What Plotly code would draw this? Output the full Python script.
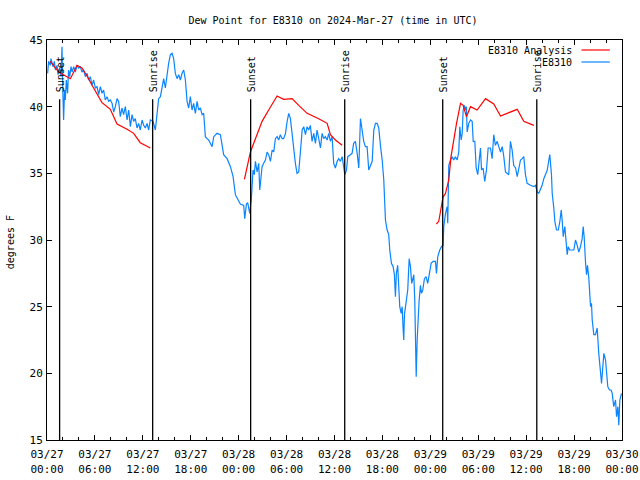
import pandas as pd
import plotly.graph_objects as go

BASE = pd.Timestamp("2024-03-27 00:00")

# Observations (hours since 2024-03-27 00:00 UTC, dew point in F)
obs_hours = [0.08,0.20,0.41,0.50,0.75,0.92,1.05,1.26,1.38,1.58,1.76,1.88,1.96,2.08,2.20,2.29,2.42,2.58,2.70,2.84,
 3.01,3.14,3.34,3.55,3.76,3.96,4.17,4.38,4.59,4.80,5.02,5.21,5.43,5.64,5.84,6.05,6.26,6.47,6.68,6.89,
 7.09,7.30,7.52,7.72,7.93,8.15,8.35,8.56,8.77,8.97,9.18,9.39,9.59,9.81,10.03,10.23,10.44,10.65,10.85,11.06,
 11.27,11.47,11.68,11.91,12.11,12.32,12.53,12.73,12.94,13.28,13.57,13.78,13.98,14.20,14.41,14.61,14.82,15.03,15.23,15.45,
 15.66,15.86,16.07,16.29,16.49,16.70,16.91,17.12,17.33,17.54,17.74,17.95,18.16,18.36,18.58,18.79,18.99,19.21,19.42,19.62,
 19.83,20.04,20.24,20.45,20.67,20.88,21.30,21.71,21.92,22.12,22.55,22.97,23.30,23.59,24.21,24.63,24.76,24.97,25.13,25.38,
 25.59,25.80,25.96,26.10,26.31,26.51,26.64,26.81,26.93,27.13,27.35,27.56,27.76,27.98,28.19,28.39,28.60,28.81,29.01,29.22,
 29.44,29.63,29.86,30.07,30.27,30.48,30.69,30.89,31.10,31.31,31.52,31.73,31.95,32.15,32.36,32.57,32.77,32.98,33.19,33.40,
 33.61,33.82,34.02,34.24,34.45,34.65,34.86,35.08,35.28,35.49,35.70,35.90,36.11,36.33,36.53,36.74,36.96,37.16,37.29,37.50,
 37.66,37.99,38.20,38.40,38.62,38.84,39.04,39.25,39.46,39.66,39.87,40.08,40.29,40.50,40.72,40.92,41.13,41.34,41.54,41.75,
 41.97,42.17,42.25,42.38,42.59,42.79,42.92,43.13,43.34,43.50,43.63,43.75,43.91,44.05,44.17,44.35,44.47,44.60,44.67,44.76,
 44.97,45.17,45.35,45.51,45.67,45.79,45.93,46.05,46.14,46.23,46.35,46.47,46.60,46.76,46.89,47.05,47.26,47.47,47.67,47.89,
 48.10,48.35,48.64,48.77,48.93,49.18,49.39,49.60,49.68,49.90,50.11,50.18,50.31,50.52,50.73,50.93,51.14,51.36,51.56,51.69,
 51.86,51.99,52.11,52.27,52.40,52.52,52.61,52.81,53.03,53.24,53.37,53.57,53.74,53.94,54.12,54.28,54.41,54.61,54.81,55.03,
 55.24,55.53,55.74,55.94,56.15,56.37,56.57,56.79,57.00,57.20,57.41,57.62,57.82,58.03,58.24,58.44,58.67,58.88,59.08,59.29,
 59.50,59.70,59.91,60.12,60.54,60.96,61.17,61.38,61.58,61.79,62.00,62.21,62.42,62.64,62.84,62.96,63.17,63.26,63.46,63.59,
 63.80,64.02,64.22,64.39,64.52,64.64,64.84,65.01,65.14,65.27,65.46,65.97,66.18,66.39,66.59,66.80,67.01,67.14,67.26,67.44,
 67.56,67.68,67.85,68.06,68.18,68.27,68.47,68.68,68.89,69.09,69.31,69.44,69.60,69.73,69.94,70.06,70.22,70.43,70.64,70.77,
 70.97,71.19,71.32,71.48,71.60,71.73,71.94]
obs_values = [42.5,43.4,43.1,43.6,43.0,43.4,42.75,43.1,42.4,42.9,42.25,44.5,41.75,39.0,41.25,40.5,42.0,41.0,42.75,42.25,
 43.0,42.6,43.0,42.6,43.1,42.9,43.0,42.6,42.75,42.25,42.5,42.0,42.25,41.6,42.0,41.4,41.5,40.9,41.5,41.0,
 41.25,40.5,40.75,40.4,40.5,40.25,39.6,40.0,40.6,40.4,39.25,39.9,39.4,40.0,39.0,39.75,38.5,39.4,38.9,39.1,
 38.4,38.75,38.25,39.0,38.6,38.4,38.75,38.25,39.0,38.9,38.25,39.4,40.6,40.75,41.6,42.1,41.4,42.5,43.25,43.9,
 44.0,43.6,42.5,42.1,42.4,42.0,42.5,42.75,42.0,40.4,39.9,40.75,39.75,40.25,39.5,40.4,39.75,39.9,39.4,39.5,
 37.75,37.6,37.5,37.25,37.0,37.75,38.0,37.9,37.1,36.4,36.1,35.5,34.75,33.4,32.7,32.6,31.6,32.7,32.8,32.0,
 33.1,35.25,34.9,35.9,35.1,35.75,33.75,34.75,35.5,35.75,36.0,36.6,36.4,35.9,36.75,36.6,37.6,37.75,37.5,37.9,
 37.6,37.6,38.0,38.9,39.5,39.1,38.0,36.6,35.75,35.0,35.1,36.6,38.25,38.5,37.9,38.5,38.25,38.6,37.4,38.0,
 37.25,38.25,37.6,36.9,38.0,37.6,37.75,37.5,38.0,37.4,37.75,35.75,35.4,35.9,36.1,35.9,36.25,35.25,34.9,35.25,
 36.25,36.4,36.5,37.25,37.4,36.5,35.4,39.1,38.25,37.4,37.0,37.0,35.25,35.6,35.9,38.25,38.75,38.75,38.4,37.1,
 36.0,34.5,33.0,31.5,30.75,30.4,29.25,28.25,28.0,27.4,25.75,27.5,28.1,25.75,25.0,24.5,25.0,23.25,22.5,24.4,
 25.5,26.25,28.6,28.0,26.75,27.1,27.4,25.5,21.6,19.75,22.5,24.25,25.5,26.6,26.0,26.25,27.1,27.25,26.75,27.5,
 28.25,28.4,28.4,27.5,28.75,29.25,29.5,29.6,31.0,32.0,32.5,31.25,35.6,36.0,36.25,36.0,36.25,36.0,36.6,38.5,
 37.5,38.0,39.75,40.1,39.75,40.0,38.1,38.75,39.0,38.9,37.4,37.4,35.4,34.9,36.0,36.9,35.25,35.4,34.4,35.25,
 36.9,36.9,36.1,37.9,37.1,37.4,37.0,36.6,37.0,36.25,35.1,35.0,34.9,37.4,36.75,35.6,35.4,34.75,35.5,36.0,
 36.1,36.25,34.9,34.25,34.1,34.0,34.1,33.6,33.5,33.75,34.1,34.6,35.0,35.25,36.0,36.4,34.9,33.5,32.4,31.4,
 30.75,30.75,31.4,32.25,31.4,30.25,31.0,30.0,28.9,29.5,29.25,29.25,30.0,29.6,29.1,29.5,30.1,31.0,30.25,28.25,
 27.4,28.1,27.1,25.0,25.25,24.0,22.9,22.9,23.4,21.5,20.25,19.25,20.5,21.5,21.0,20.25,19.0,18.75,18.75,18.5,
 17.5,18.0,16.75,17.5,16.1,18.0,18.5]

# Analysis: three separate runs
ana1_hours = [0.41,1.47,2.93,3.76,4.38,5.02,5.64,6.26,6.89,7.93,8.77,10.03,10.85,11.68,12.94]
ana1_values = [43.4,42.6,42.1,43.1,42.9,42.3,41.6,40.9,40.3,39.8,38.7,38.3,38.0,37.3,36.9]
ana2_hours = [24.72,25.47,26.10,26.93,27.76,28.81,29.63,30.69,31.52,32.57,34.02,35.08,35.49,36.11,36.96]
ana2_values = [34.55,36.6,37.6,38.9,39.75,40.8,40.55,40.6,40.1,39.5,39.1,38.75,37.9,37.5,37.1]
ana3_hours = [48.76,49.05,49.26,49.58,49.90,50.31,50.59,50.87,51.28,51.78,52.11,52.52,53.03,53.86,54.91,55.94,56.79,57.62,58.88,59.70,60.96]
ana3_values = [31.2,31.4,32.1,33.2,33.5,34.5,36.25,37.4,38.75,40.25,40.1,39.25,40.0,39.75,40.6,40.2,39.3,39.5,39.8,38.9,38.6]

event_hours = [1.58, 13.23, 25.50, 37.28, 49.55, 61.33]
event_labels = ["Sunset", "Sunrise", "Sunset", "Sunrise", "Sunset", "Sunrise"]

title_text = "Dew Point for E8310 on 2024-Mar-27 (time in UTC)"
y_title = "degrees F"
series_names = ["E8310 Analysis", "E8310"]
RED = "#ff0000"
BLUE = "#0a84ff"
FONT = "DejaVu Sans Mono"


def to_time(hours):
    return [None if h is None else BASE + pd.Timedelta(hours=h) for h in hours]


ana_hours = ana1_hours + [None] + ana2_hours + [None] + ana3_hours
ana_values = ana1_values + [None] + ana2_values + [None] + ana3_values

fig = go.Figure()
fig.add_trace(go.Scatter(x=to_time(obs_hours), y=obs_values, mode="lines",
                         line=dict(color=BLUE, width=1.2), name=series_names[1]))
fig.add_trace(go.Scatter(x=to_time(ana_hours), y=ana_values, mode="lines",
                         line=dict(color=RED, width=1.2), name=series_names[0],
                         connectgaps=False))

for h, lab in zip(event_hours, event_labels):
    t = BASE + pd.Timedelta(hours=h)
    fig.add_shape(type="line", xref="x", yref="y", x0=t, x1=t, y0=40.55, y1=15,
                  line=dict(color="black", width=1.3))
    fig.add_annotation(x=t, y=40.9, xref="x", yref="y", text=lab, textangle=-90,
                       showarrow=False, xanchor="center", yanchor="bottom", xshift=1,
                       font=dict(family=FONT, size=10, color="black"))

# legend (gnuplot style: text right, sample on the right)
leg_rows = [(0.973, RED, series_names[0]), (0.943, BLUE, series_names[1])]
for yy, col, name in leg_rows:
    fig.add_annotation(x=0.917, y=yy, xref="paper", yref="paper", text=name,
                       showarrow=False, xanchor="right", yanchor="middle",
                       font=dict(family=FONT, size=10, color="black"))
    fig.add_shape(type="line", xref="paper", yref="paper", x0=0.9295, x1=0.9788,
                  y0=yy + 0.002, y1=yy + 0.002, line=dict(color=col, width=1.2))

fig.add_annotation(x=-0.064, y=0.495, xref="paper", yref="paper", text=y_title,
                   textangle=-90, showarrow=False, xanchor="center", yanchor="middle",
                   font=dict(family=FONT, size=10, color="black"))

fig.update_layout(
    width=640, height=480,
    margin=dict(l=47, r=18, t=40, b=40, autoexpand=False),
    paper_bgcolor="white", plot_bgcolor="white",
    showlegend=False,
    font=dict(family=FONT, size=10, color="black"),
    title=dict(text=title_text, x=333 / 640, xref="container", xanchor="center",
               y=1 - 20 / 480, yref="container", yanchor="middle",
               font=dict(family=FONT, size=10, color="black")),
)
fig.update_xaxes(
    type="date", automargin=False,
    range=[BASE, BASE + pd.Timedelta(hours=72)],
    tick0=BASE, dtick=6 * 3600 * 1000,
    tickformat="%m/%d<br>%H:%M",
    ticks="inside", ticklen=5, tickwidth=1, tickcolor="black",
    minor=dict(dtick=2 * 3600 * 1000, ticks="inside", ticklen=3, tickcolor="black", tickwidth=1),
    showline=True, linecolor="black", linewidth=1, mirror="ticks",
    showgrid=False, zeroline=False,
    ticklabelstandoff=4,
    tickfont=dict(family=FONT, size=11, color="black"),
)
fig.update_yaxes(
    automargin=False,
    range=[15, 45], tick0=15, dtick=5,
    ticks="inside", ticklen=5, tickwidth=1, tickcolor="black",
    showline=True, linecolor="black", linewidth=1, mirror="ticks",
    showgrid=False, zeroline=False,
    ticklabelstandoff=1,
    tickfont=dict(family=FONT, size=11, color="black"),
)

fig.write_html("out.html", config={"displayModeBar": False},
               post_script="document.body.style.margin='0px';document.body.style.overflow='hidden';")
